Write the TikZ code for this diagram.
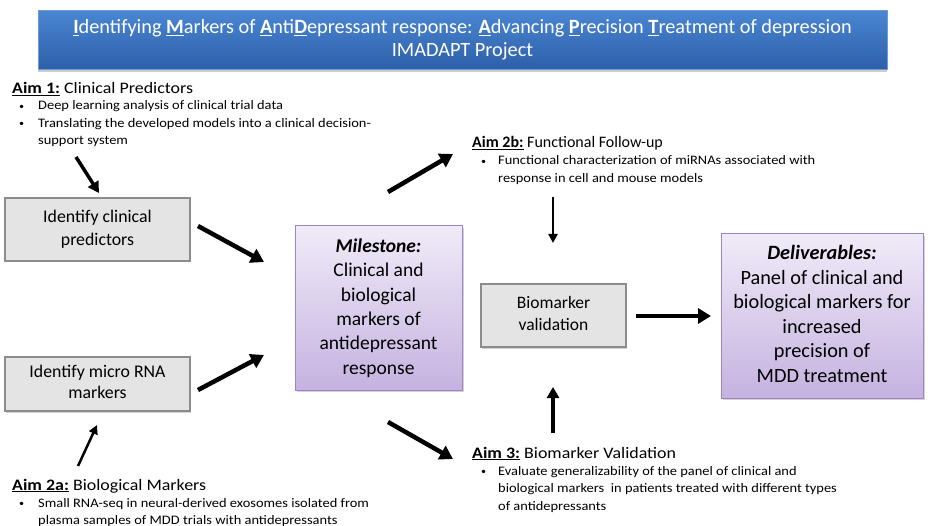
\documentclass[tikz,border=0pt]{standalone}
\usepackage{fontspec}
\setmainfont{Carlito}
\newfontfamily\widefont[FakeStretch=1.12]{Carlito}
\newfontfamily\widerfont[FakeStretch=1.11]{Carlito}
\usetikzlibrary{arrows.meta,shadows}
\definecolor{titletop}{HTML}{4A86D2}
\definecolor{titlebot}{HTML}{2D5FA9}
\definecolor{titleedge}{HTML}{6E9AD8}
\definecolor{purtop}{HTML}{F0EBF8}
\definecolor{purbot}{HTML}{C5B2E0}
\definecolor{puredge}{HTML}{9A86C6}
\definecolor{grayfill}{HTML}{E4E4E4}
\definecolor{grayedge}{HTML}{8C8C8C}
\newcommand{\ul}[1]{\underline{\textbf{#1}}}
\newcommand{\bdot}{\raisebox{0.15ex}{\scalebox{0.7}{\textbullet}}}
\newcommand{\twolines}[3]{\raisebox{#1}{\begin{tabular}{@{}c@{}}#2\\#3\end{tabular}}}
\tikzset{
  graybox/.style={draw=grayedge, line width=2pt, fill=grayfill, align=center,
    font=\fontsize{17.8}{23.5}\selectfont, inner sep=0pt,
    drop shadow={shadow xshift=1pt, shadow yshift=-1.5pt, opacity=0.35}},
  purbox/.style={draw=puredge, line width=1pt, top color=purtop, bottom color=purbot,
    align=center, inner sep=0pt,
    drop shadow={shadow xshift=1.5pt, shadow yshift=-2pt, opacity=0.35}},
  aimhead/.style={anchor=base west, inner sep=0pt, font=\widefont\fontsize{16}{19}\selectfont},
  bullets/.style={anchor=base west, inner sep=0pt, font=\widerfont\fontsize{13}{17.5}\selectfont},
  bigarrow/.style={line width=4.5pt, -{Triangle[length=13pt,width=15pt]}},
  midarrow/.style={line width=3.5pt, -{Triangle[length=11pt,width=12pt]}},
  thinarrow/.style={line width=2.5pt, -{Triangle[length=9pt,width=9pt]}},
}
\begin{document}
\begin{tikzpicture}[x=1pt,y=-1pt]
\useasboundingbox (0,0) rectangle (928,526);
% title
\node[draw=titleedge, line width=0.8pt, top color=titletop, bottom color=titlebot,
  minimum width=849pt, minimum height=59pt, inner sep=0pt,
  drop shadow={shadow xshift=0pt, shadow yshift=-2.5pt, opacity=0.4},
  text=white, align=center, font=\fontsize{20.3}{23}\selectfont]
  (title) at (462.5,40)
  {\ul{I}dentifying \ul{M}arkers of \ul{A}nti\ul{D}epressant response: \ul{A}dvancing \ul{P}recision \ul{T}reatment of depression\\IMADAPT Project};

% Aim 1
\node[aimhead] (aim1) at (12,94) {\ul{Aim 1:} Clinical Predictors};
\node[bullets] (aim1b) at (19,110) {\begin{tabular}[t]{@{}p{19pt}@{}l@{}}
\bdot & Deep learning analysis of clinical trial data\\
\bdot & Translating the developed models into a clinical decision-\\
 & support system\end{tabular}};

% Aim 2b
\node[aimhead, font=\fontsize{16}{19}\selectfont] (aim2b) at (472,148) {\ul{Aim 2b:} Functional Follow-up};
\node[bullets] (aim2bb) at (481,165) {\begin{tabular}[t]{@{}p{17pt}@{}l@{}}
\bdot & Functional characterization of miRNAs associated with\\
 & response in cell and mouse models\end{tabular}};

% Aim 3
\node[aimhead] (aim3) at (472,458) {\ul{Aim 3:} Biomarker Validation};
\node[bullets] (aim3b) at (481,475) {\begin{tabular}[t]{@{}p{17pt}@{}l@{}}
\bdot & Evaluate generalizability of the panel of clinical and\\
 & biological markers\ \ in patients treated with different types\\
 & of antidepressants\end{tabular}};

% Aim 2a
\node[aimhead] (aim2a) at (12,490) {\ul{Aim 2a:} Biological Markers};
\node[bullets] (aim2ab) at (19,507) {\begin{tabular}[t]{@{}p{19pt}@{}l@{}}
\bdot & Small RNA-seq in neural-derived exosomes isolated from\\
 & plasma samples of MDD trials with antidepressants\end{tabular}};

% boxes
\node[graybox, minimum width=185pt, minimum height=63pt] (clin) at (97.5,229.5) {\twolines{4pt}{Identify clinical}{predictors}};
\node[graybox, minimum width=185pt, minimum height=54pt, font=\fontsize{17.8}{21}\selectfont] (mirna) at (97.5,384) {\twolines{0pt}{Identify micro RNA}{markers}};
\node[purbox, minimum width=167pt, minimum height=164pt, font=\fontsize{19.5}{24.3}\selectfont] (mile) at (378.5,308) {\textbf{\textit{Milestone:}}\\Clinical and\\biological\\markers of\\antidepressant\\response};
\node[graybox, minimum width=145pt, minimum height=63pt, font=\fontsize{17.5}{22}\selectfont] (bio) at (553.5,315.5) {\twolines{4pt}{Biomarker}{validation}};
\node[purbox, minimum width=202pt, minimum height=164pt, font=\fontsize{20.3}{24.5}\selectfont] (deliv) at (822,316) {\raisebox{2pt}{\begin{tabular}{@{}c@{}}\textbf{\textit{Deliverables:}}\\Panel of clinical and\\biological markers for\\increased\\precision of\\MDD treatment\end{tabular}}};

% arrow end points
\coordinate (a1s) at (76,157);   \coordinate (a1e) at (99,193);
\coordinate (c1s) at (198,226);  \coordinate (c1e) at (264,262);
\coordinate (m1s) at (198,390);  \coordinate (m1e) at (264,355);
\coordinate (u1s) at (388,192);  \coordinate (u1e) at (453,154);
\coordinate (d1s) at (388,422);  \coordinate (d1e) at (453,459);
\coordinate (v1s) at (553,197);  \coordinate (v1e) at (553,243);
\coordinate (v2s) at (553,433);  \coordinate (v2e) at (553,387);
\coordinate (b2s) at (78,466);   \coordinate (b2e) at (97,425);
\coordinate (h1s) at (636,316);  \coordinate (h1e) at (711,316);

\draw[midarrow] (a1s) -- (a1e);
\draw[bigarrow] (c1s) -- (c1e);
\draw[bigarrow] (m1s) -- (m1e);
\draw[bigarrow] (u1s) -- (u1e);
\draw[bigarrow] (d1s) -- (d1e);
\draw[thinarrow] (v1s) -- (v1e);
\draw[midarrow] (v2s) -- (v2e);
\draw[thinarrow] (b2s) -- (b2e);
\draw[bigarrow] (h1s) -- (h1e);
\end{tikzpicture}
\end{document}
